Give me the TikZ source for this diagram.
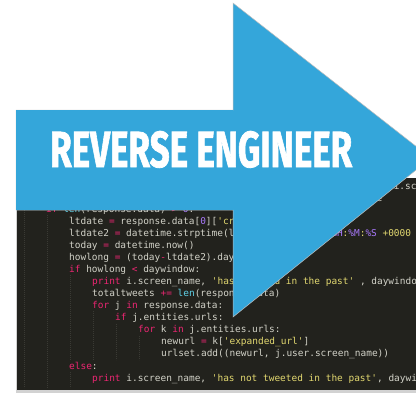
\documentclass[tikz,border=0pt]{standalone}
\usepackage{fontspec}
\newfontfamily\codefont{DejaVu Sans Mono}
\newfontfamily\titlefont[BoldFeatures={FakeBold=1.6}]{Fira Sans}

% editor palette
\definecolor{edbg}{RGB}{34,34,29}
\definecolor{edtext}{RGB}{210,210,200}
\definecolor{edguide}{RGB}{58,58,52}
\definecolor{mkpink}{RGB}{236,38,114}
\definecolor{mkyellow}{RGB}{226,216,112}
\definecolor{mkpurple}{RGB}{168,120,250}
\definecolor{mkcyan}{RGB}{96,210,232}
% banner
\definecolor{banner}{RGB}{52,166,218}
\definecolor{edgegray}{RGB}{190,190,190}

\newcommand\kwd[1]{\textcolor{mkpink}{#1}}
\newcommand\strg[1]{\textcolor{mkyellow}{#1}}
\newcommand\numb[1]{\textcolor{mkpurple}{#1}}
\newcommand\bltn[1]{\textcolor{mkcyan}{#1}}

\tikzset{
  codeline/.style={anchor=base west, inner sep=0pt, text=edtext,
    font=\codefont\fontsize{9.5}{12}\selectfont},
  guide/.style={draw=edguide, line width=0.6bp, dash pattern=on 1bp off 1bp},
  titletext/.style={anchor=base west, inner sep=0pt, text=white}
}

\begin{document}
\begin{tikzpicture}[x=1bp,y=-1bp]
\useasboundingbox (0,0) rectangle (416,393);
\clip (0,0) rectangle (416,393);

% editor window with its shadow
\fill[gray!35] (16,178) rectangle (416,393);
\fill[edbg] (17,178) rectangle (416,390);

% indentation guides
\draw[guide] (24,180) -- (24,388);
\draw[guide] (47,215) -- (47,388);
\draw[guide] (70,275) -- (70,360);
\draw[guide] (70,372) -- (70,388);
\draw[guide] (93,311) -- (93,360);
\draw[guide] (116,324) -- (116,360);
\draw[guide] (139,336) -- (139,360);

% source code
\node[codeline] (l01) at (46,189) {response \kwd{=} client.api.statuses.user\_timeline.get(screen\_name=i.screen\_name, count=\numb{1})};
\node[codeline] (l02) at (46,201) {\kwd{print} \bltn{len}(response.data), \strg{'tweets found for'}, i.screen\_name};
\node[codeline] (l03) at (46,212) {\kwd{if} \bltn{len}(response.data) \kwd{>} \numb{0}:};
\node[codeline] (l04) at (69,224) {ltdate \kwd{=} response.data[\numb{0}][\strg{'created\_at'}]};
\node[codeline] (l05) at (69,236.1) {ltdate2 \kwd{=} datetime.strptime(ltdate, \strg{'}\numb{\%a} \numb{\%b} \numb{\%d} \numb{\%H}\strg{:}\numb{\%M}\strg{:}\numb{\%S} \strg{+0000} \numb{\%Y}\strg{'})};
\node[codeline] (l06) at (69,248.2) {today \kwd{=} datetime.now()};
\node[codeline] (l07) at (69,260.2) {howlong \kwd{=} (today\kwd{-}ltdate2).days};
\node[codeline] (l08) at (69,272.3) {\kwd{if} howlong \kwd{<} daywindow:};
\node[codeline] (l09) at (92,284.4) {\kwd{print} i.screen\_name, \strg{'has tweeted in the past'} , daywindow, \strg{'days'}};
\node[codeline] (l10) at (92,296.5) {totaltweets \kwd{+=} \bltn{len}(response.data)};
\node[codeline] (l11) at (92,308.6) {\kwd{for} j \kwd{in} response.data:};
\node[codeline] (l12) at (115,320.6) {\kwd{if} j.entities.urls:};
\node[codeline] (l13) at (138,332.7) {\kwd{for} k \kwd{in} j.entities.urls:};
\node[codeline] (l14) at (161,344.8) {newurl \kwd{=} k[\strg{'expanded\_url'}]};
\node[codeline] (l15) at (161,356.9) {urlset.add((newurl, j.user.screen\_name))};
\node[codeline] (l16) at (69,369.0) {\kwd{else}:};
\node[codeline] (l17) at (92,381.0) {\kwd{print} i.screen\_name, \strg{'has not tweeted in the past'}, daywindow, \strg{'days'}};

% the big arrow
\filldraw[fill=banner, draw=edgegray, line width=0.5bp]
  (16,110) -- (233,110) -- (233,3) -- (431,158) -- (233,317)
  -- (233,210) -- (16,210) -- cycle;
\fill[banner] (16.3,110.3) rectangle (233.3,209.7);

% banner caption
\node[titletext] (title) at (50,167)
  {\resizebox{302bp}{36bp}{\titlefont\bfseries REVERSE ENGINEER}};
\end{tikzpicture}
\end{document}
